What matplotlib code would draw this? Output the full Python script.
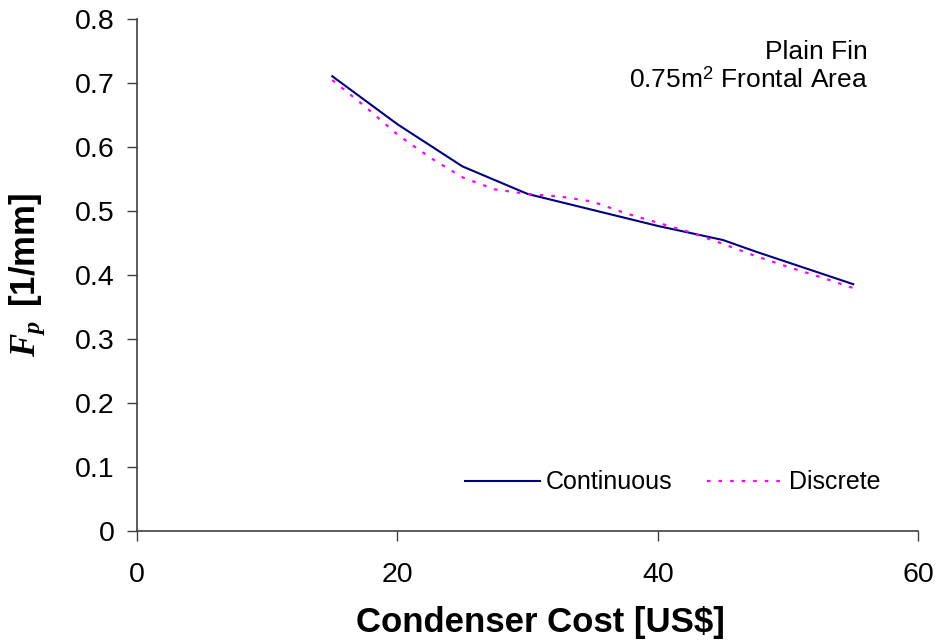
import matplotlib.pyplot as plt

plt.rcParams['font.family'] = ['Liberation Sans', 'DejaVu Sans']
plt.rcParams['mathtext.fontset'] = 'custom'
plt.rcParams['mathtext.it'] = 'Liberation Serif:italic:bold'
plt.rcParams['mathtext.rm'] = 'Liberation Serif:bold'

# fin pitch vs condenser cost
cost_cont = [15, 20, 25, 30, 35, 40, 45, 47.5, 50, 55]
fp_cont = [0.711, 0.636, 0.570, 0.527, 0.502, 0.477, 0.455, 0.437, 0.420, 0.386]

cost_disc = [15, 17.5, 20, 22.5, 25, 27.5, 30, 32.5, 35, 37.5, 40, 42.5, 45, 47.5, 50, 52.5, 55]
fp_disc = [0.705, 0.664, 0.620, 0.584, 0.553, 0.534, 0.527, 0.523, 0.515, 0.497,
           0.482, 0.467, 0.449, 0.430, 0.413, 0.397, 0.380]

fig = plt.figure(figsize=(9.38, 6.43), dpi=100)
ax = fig.add_axes([0.146, 0.174, 0.833, 0.796])

ax.plot(cost_cont, fp_cont, color='#000080', lw=1.5, label='Continuous')
ax.plot(cost_disc, fp_disc, color='#ff00ff', lw=1.6, linestyle=(0, (1.6, 3.6)),
        label='Discrete')

ax.set_xlim(0, 60)
ax.set_ylim(0, 0.8)
ax.set_xticks([0, 20, 40, 60])
ax.set_yticks([0, 0.1, 0.2, 0.3, 0.4, 0.5, 0.6, 0.7, 0.8])
ax.set_yticklabels(['0', '0.1', '0.2', '0.3', '0.4', '0.5', '0.6', '0.7', '0.8'])
ax.tick_params(labelsize=20.5, direction='out', length=7, width=1, color='#404040')
ax.tick_params(axis='x', pad=15)
ax.tick_params(axis='y', pad=9)
for s in ['top', 'right']:
    ax.spines[s].set_visible(False)
for s in ['left', 'bottom']:
    ax.spines[s].set_linewidth(1.2)
    ax.spines[s].set_color('#404040')

ax.set_xlabel('Condenser Cost [US$]', fontsize=25, fontweight='bold', labelpad=13)
ax.xaxis.label.set_x(0.516)
ax.set_ylabel('$F_p\\,$ [1/mm]', fontsize=25, fontweight='bold', labelpad=20)

ax.text(0.935, 0.96, 'Plain Fin\n0.75m$^\\mathregular{2}$ Frontal Area', transform=ax.transAxes,
        ha='right', va='top', fontsize=19, linespacing=1.15)

ax.legend(loc='lower right', bbox_to_anchor=(0.98, 0.028), ncol=2, frameon=False,
          fontsize=18, handlelength=3.0, handletextpad=0.25, columnspacing=1.4)

plt.savefig('out.png', dpi=100)
